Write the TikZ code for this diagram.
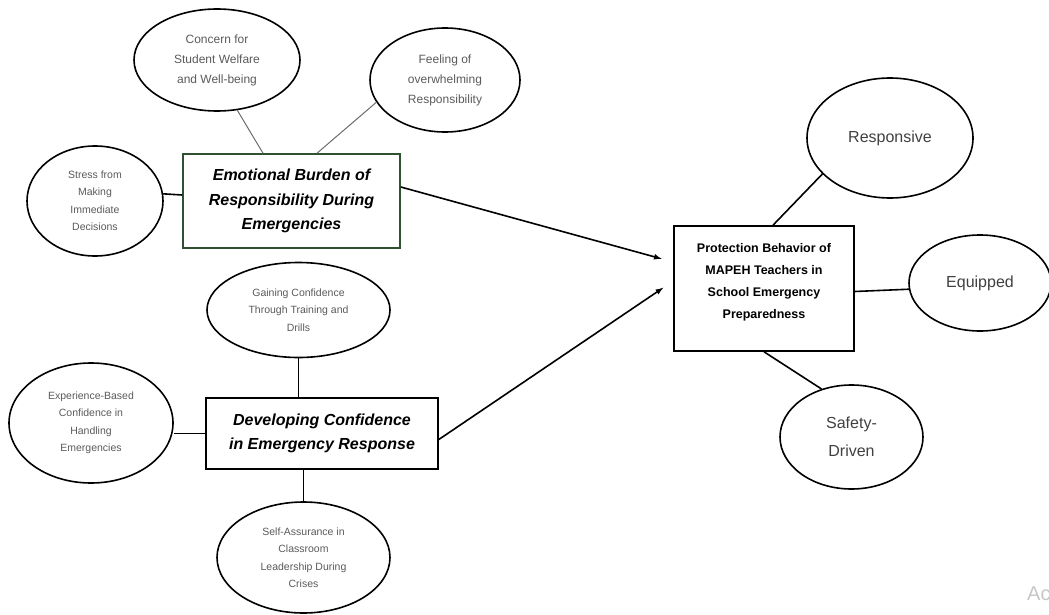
\documentclass[tikz,border=0pt]{standalone}
\usepackage{fontspec}
\setmainfont{Liberation Sans}
\usetikzlibrary{shapes.geometric}
\definecolor{boxgreen}{HTML}{2E5230}
\definecolor{subgray}{HTML}{5A5A5A}
\definecolor{outgray}{HTML}{404040}

\begin{document}
\begin{tikzpicture}
[every node/.style={inner sep=0pt, align=center},
 oval/.style={ellipse, draw=black, line width=1.6pt, text=subgray, font=\fontsize{10.5}{17.5}\selectfont},
 bigoval/.style={oval, font=\fontsize{12}{20}\selectfont},
 outcome/.style={oval, text=outgray, font=\fontsize{16}{28}\selectfont},
 theme/.style={rectangle, draw=black, line width=1.6pt, font=\fontsize{16}{24.5}\selectfont\bfseries\itshape},
 link/.style={line width=1.6pt, color=black},
 thinlink/.style={line width=1pt, color=gray!85!black},
 arrow/.style={line width=1.6pt, ->, >=latex, shorten >=12pt}]
\useasboundingbox (0pt, 0pt) rectangle (1049pt, -615pt);
% emotional burden
\node (1) [bigoval, minimum width=166pt, minimum height=102pt] at (217pt, -60pt) {Concern for\\Student Welfare\\and Well-being};
\node (2) [bigoval, minimum width=150pt, minimum height=104pt] at (445pt, -80pt) {Feeling of\\overwhelming\\Responsibility};
\node (3) [oval, minimum width=136pt, minimum height=110pt] at (95pt, -201pt) {Stress from\\Making\\Immediate\\Decisions};
\node (4) [theme, draw=boxgreen, minimum width=217pt, minimum height=94pt] at (291.5pt, -201pt) {Emotional Burden of\\Responsibility During\\Emergencies};
% developing confidence
\node (5) [oval, minimum width=183pt, minimum height=95pt] at (298.5pt, -310pt) {Gaining Confidence\\Through Training and\\Drills};
\node (6) [oval, minimum width=164pt, minimum height=120pt] at (91pt, -423pt) {Experience-Based\\Confidence in\\Handling\\Emergencies};
\node (7) [theme, minimum width=232pt, minimum height=71pt] at (322pt, -433.5pt) {Developing Confidence\\in Emergency Response};
\node (8) [oval, minimum width=173pt, minimum height=111pt] at (303.5pt, -557.5pt) {Self-Assurance in\\Classroom\\Leadership During\\Crises};
% protection behavior
\node (9) [rectangle, draw=black, line width=1.6pt, minimum width=180pt, minimum height=125pt,
  label={[yshift=6pt, align=center, font=\fontsize{12.5}{22}\selectfont\bfseries]center:{Protection Behavior of\\MAPEH Teachers in\\School Emergency\\Preparedness}}] at (764pt, -288.5pt) {};
\node (10) [outcome, minimum width=166pt, minimum height=120pt] at (890pt, -138pt) {Responsive};
\node (11) [outcome, minimum width=142pt, minimum height=96pt] at (980pt, -283pt) {Equipped};
\node (12) [outcome, minimum width=143pt, minimum height=104pt] at (851.5pt, -437pt) {Safety-\\Driven};
\node (13) [anchor=west, text=gray!45, font=\fontsize{20}{20}\selectfont] at (1027pt, -594pt) {Ac};
\draw [thinlink] (1.292) -- ([xshift=-28.5pt]4.north);
\draw [thinlink] (2.198) -- ([xshift=25.5pt]4.north);
\draw [link] (3.6) -- ([yshift=6pt]4.west);
\draw [link] (5.south) -- (5.south |- 7.north);
\draw [link] (7.west) -- (6.east |- 7.west);
\draw [link] (7.south -| 8.north) -- (8.north);
\draw [arrow] ([yshift=14pt]4.east) -- ([yshift=26.5pt]9.west);
\draw [arrow] ([yshift=-6pt]7.east) -- ([yshift=7.5pt]9.west);
\draw [link] ([xshift=9pt]9.north) -- (10.208);
\draw [link] ([yshift=-3pt]9.east) -- (11.185);
\draw [link] (9.south) -- (12.122);
\end{tikzpicture}
\end{document}
